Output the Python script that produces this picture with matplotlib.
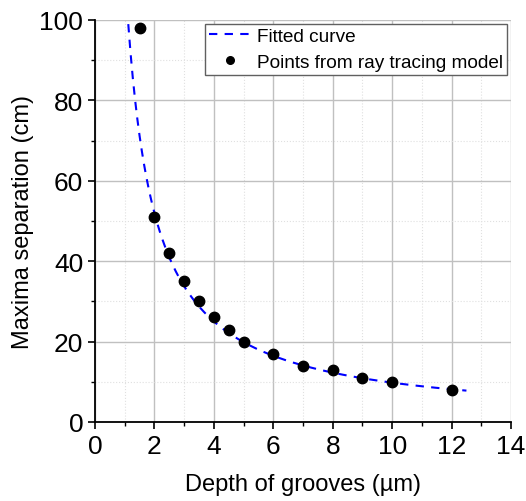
import numpy as np
import matplotlib
matplotlib.use("Agg")
import matplotlib.pyplot as plt
from matplotlib.ticker import MultipleLocator

plt.rcParams['font.family'] = ['Liberation Sans', 'DejaVu Sans']

# Puntos del modelo de trazado de rayos
depth = [1.5, 2, 2.5, 3, 3.5, 4, 4.5, 5, 6, 7, 8, 9, 10, 12]
separation = [98, 51, 42, 35, 30, 26, 23, 20, 17, 14, 13, 11, 10, 8]

# Parametros de la curva ajustada  y = a / (x - x0)
fit_a = 96.4
fit_x0 = 0.146
fit_range = (1.12, 12.5)

fig = plt.figure(figsize=(5.26, 5.02), dpi=100)
ax = fig.add_axes([0.1806, 0.1574, 0.7909, 0.8008])

x_fit = np.linspace(fit_range[0], fit_range[1], 300)
y_fit = fit_a / (x_fit - fit_x0)
ax.plot(x_fit, y_fit, linestyle=(0, (4, 3.5)), color='#0000ff', lw=1.5,
        label='Fitted curve', zorder=3)
ax.plot(depth, separation, 'o', color='black', markersize=7.5, linestyle='none',
        label='Points from ray tracing model', zorder=4)

ax.set_xlim(0, 14)
ax.set_ylim(0, 100)
ax.xaxis.set_major_locator(MultipleLocator(2))
ax.xaxis.set_minor_locator(MultipleLocator(1))
ax.yaxis.set_major_locator(MultipleLocator(20))
ax.yaxis.set_minor_locator(MultipleLocator(10))

ax.grid(which='major', color='#c0c0c0', lw=1.0, zorder=0)
ax.grid(which='minor', color='#e0e0e0', lw=0.8, linestyle=':', zorder=0)
ax.set_axisbelow(True)

for s in ['top', 'right']:
    ax.spines[s].set_visible(False)
for s in ['left', 'bottom']:
    ax.spines[s].set_linewidth(1.3)

ax.tick_params(which='major', direction='out', length=5, width=1.2, labelsize=19)
ax.tick_params(which='minor', direction='out', length=3, width=1.0)

ax.set_xlabel('Depth of grooves (µm)', fontsize=17, labelpad=11)
ax.set_ylabel('Maxima separation (cm)', fontsize=17)

leg = ax.legend(loc='upper right', fontsize=13.7, fancybox=False, framealpha=1,
                edgecolor='#606060', handlelength=2.17, borderpad=0.2,
                labelspacing=0.45, handletextpad=0.38, borderaxespad=0.2,
                markerscale=0.73)
leg.get_frame().set_linewidth(1.0)

fig.savefig('out.png', dpi=100)
